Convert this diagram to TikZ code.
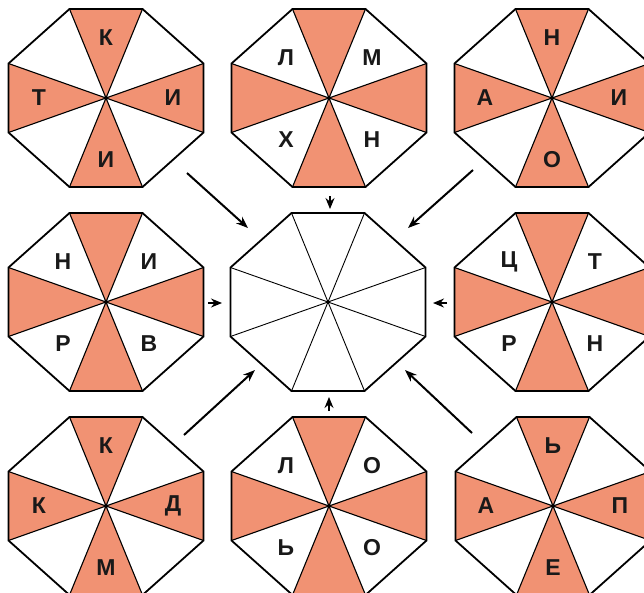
\documentclass[tikz,border=0pt]{standalone}
\usepackage{fontspec}
\setmainfont{Liberation Sans}
\usetikzlibrary{arrows.meta}
\definecolor{salmon}{RGB}{241,146,115}
\tikzset{
  octline/.style={line width=1.8pt, line join=miter},
  radline/.style={line width=1.1pt},
  lettr/.style={font=\fontsize{23}{23}\selectfont\bfseries, inner sep=0pt, text=black!90},
  arr/.style={line width=2pt, -{Stealth[length=12pt,width=9pt]}},
  sarr/.style={line width=1.2pt, -{Stealth[length=11pt,width=9pt]}},
  octo/.pic={
    \fill[salmon] (0,0)--(-36.5,-89)--(36.5,-89)--cycle;
    \fill[salmon] (0,0)--(-36.5,89)--(36.5,89)--cycle;
    \fill[salmon] (0,0)--(97.5,-34.5)--(97.5,34.5)--cycle;
    \fill[salmon] (0,0)--(-97.5,-34.5)--(-97.5,34.5)--cycle;
    \draw[radline] (-36.5,-89)--(36.5,89) (36.5,-89)--(-36.5,89)
                   (97.5,-34.5)--(-97.5,34.5) (97.5,34.5)--(-97.5,-34.5);
    \draw[octline] (-36.5,-89)--(36.5,-89)--(97.5,-34.5)--(97.5,34.5)--(36.5,89)--(-36.5,89)--(-97.5,34.5)--(-97.5,-34.5)--cycle;
    \fill (0,0) circle (1.6);
  },
  octw/.pic={
    \fill[white] (-36.5,-89)--(36.5,-89)--(97.5,-34.5)--(97.5,34.5)--(36.5,89)--(-36.5,89)--(-97.5,34.5)--(-97.5,-34.5)--cycle;
    \draw[radline, line width=0.9pt] (-36.5,-89)--(36.5,89) (36.5,-89)--(-36.5,89)
                   (97.5,-34.5)--(-97.5,34.5) (97.5,34.5)--(-97.5,-34.5);
    \draw[octline] (-36.5,-89)--(36.5,-89)--(97.5,-34.5)--(97.5,34.5)--(36.5,89)--(-36.5,89)--(-97.5,34.5)--(-97.5,-34.5)--cycle;
    \fill (0,0) circle (1.4);
  }
}
\newcommand\axl[5]{%
  \node[lettr] (#1T) at ([shift={(0,-60)}]#1) {#2};
  \node[lettr] (#1L) at ([shift={(-67,0)}]#1) {#3};
  \node[lettr] (#1R) at ([shift={(67,0)}]#1) {#4};
  \node[lettr] (#1B) at ([shift={(0,62)}]#1) {#5};}
\newcommand\dgl[5]{%
  \node[lettr] (#1a) at ([shift={(-43,-40)}]#1) {#2};
  \node[lettr] (#1b) at ([shift={(43,-40)}]#1) {#3};
  \node[lettr] (#1c) at ([shift={(-43,42)}]#1) {#4};
  \node[lettr] (#1d) at ([shift={(43,42)}]#1) {#5};}
\begin{document}
\begin{tikzpicture}[x=1pt,y=-1pt]
\useasboundingbox (0,0) rectangle (644,592);
\fill[white] (0,0) rectangle (644,592);
% centres
\coordinate (tl) at (106,98);
\coordinate (tm) at (329,98);
\coordinate (tr) at (552,98);
\coordinate (ml) at (106,302);
\coordinate (mc) at (328,302);
\coordinate (mr) at (552,302);
\coordinate (bl) at (106,506);
\coordinate (bm) at (329,506);
\coordinate (br) at (553,506);
\begin{scope}
\clip (0,0) rectangle (644,592);
\foreach \c in {tl,tm,tr,ml,mr,bl,bm,br}{ \pic at (\c) {octo}; }
\pic at (mc) {octw};
\end{scope}
\axl{tl}{К}{Т}{И}{И}
\dgl{tm}{Л}{М}{Х}{Н}
\axl{tr}{Н}{А}{И}{О}
\dgl{ml}{Н}{И}{Р}{В}
\dgl{mr}{Ц}{Т}{Р}{Н}
\axl{bl}{К}{К}{Д}{М}
\dgl{bm}{Л}{О}{Ь}{О}
\axl{br}{Ь}{А}{П}{Е}
% arrow end points
\coordinate (s1) at (187,173); \coordinate (e1) at (248,228);
\coordinate (s2) at (473,170); \coordinate (e2) at (408,228);
\coordinate (s3) at (184,435); \coordinate (e3) at (255,370);
\coordinate (s4) at (472,433); \coordinate (e4) at (405,370);
\coordinate (s5) at (330,196); \coordinate (e5) at (330,209);
\coordinate (s6) at (329,411); \coordinate (e6) at (329,397);
\coordinate (s7) at (208,303); \coordinate (e7) at (222,303);
\coordinate (s8) at (447,303); \coordinate (e8) at (433,303);
\foreach \i in {1,...,4}{ \draw[arr] (s\i) -- (e\i); }
\foreach \i in {5,...,8}{ \draw[sarr] (s\i) -- (e\i); }
\end{tikzpicture}
\end{document}
